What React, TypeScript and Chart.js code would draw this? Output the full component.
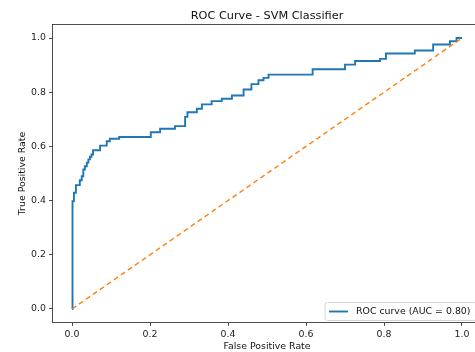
import React, { useEffect, useRef } from "react";
import { Chart, registerables } from "chart.js";

Chart.register(...registerables);

// ROC curve corner points (false positive rate, true positive rate)
const fpr = [
  0, 0, 0.002, 0.002, 0.005, 0.005, 0.01, 0.01, 0.02, 0.02, 0.025, 0.025,
  0.029, 0.029, 0.033, 0.033, 0.038, 0.038, 0.042, 0.042, 0.046, 0.046, 0.05,
  0.05, 0.054, 0.054, 0.072, 0.072, 0.089, 0.089, 0.097, 0.097, 0.121, 0.121,
  0.202, 0.202, 0.226, 0.226, 0.264, 0.264, 0.29, 0.29, 0.296, 0.296, 0.32,
  0.32, 0.333, 0.333, 0.358, 0.358, 0.384, 0.384, 0.41, 0.41, 0.44, 0.44,
  0.46, 0.46, 0.478, 0.478, 0.491, 0.491, 0.504, 0.504, 0.617, 0.617, 0.7,
  0.7, 0.726, 0.726, 0.79, 0.79, 0.805, 0.805, 0.879, 0.879, 0.926, 0.926,
  0.969, 0.969, 0.986, 0.986, 1,
];
const tpr = [
  0, 0.133, 0.133, 0.398, 0.398, 0.429, 0.429, 0.457, 0.457, 0.475, 0.475,
  0.49, 0.49, 0.515, 0.515, 0.527, 0.527, 0.54, 0.54, 0.552, 0.552, 0.562,
  0.562, 0.57, 0.57, 0.586, 0.586, 0.603, 0.603, 0.619, 0.619, 0.628, 0.628,
  0.635, 0.635, 0.652, 0.652, 0.665, 0.665, 0.675, 0.675, 0.709, 0.709, 0.726,
  0.726, 0.739, 0.739, 0.755, 0.755, 0.767, 0.767, 0.776, 0.776, 0.788, 0.788,
  0.81, 0.81, 0.83, 0.83, 0.844, 0.844, 0.853, 0.853, 0.865, 0.865, 0.885,
  0.885, 0.902, 0.902, 0.915, 0.915, 0.923, 0.923, 0.943, 0.943, 0.954, 0.954,
  0.976, 0.976, 0.988, 0.988, 1.0, 1.0,
];
const diagX = [0, 1];
const diagY = [0, 1];
const tickValues = [0, 0.2, 0.4, 0.6, 0.8, 1.0];
const titleText = "ROC Curve - SVM Classifier";
const xLabel = "False Positive Rate";
const yLabel = "True Positive Rate";
const legendLabel = "ROC curve (AUC = 0.80)";

const W = 490;
const H = 352;
const FONT = '"DejaVu Sans", sans-serif';
const BLUE = "#1f77b4";
const ORANGE = "#ff7f0e";

const decorPlugin = {
  id: "decor",
  afterDraw(chart: any) {
    const { ctx, chartArea } = chart;
    const { left, right, top, bottom } = chartArea;
    ctx.save();
    // frame
    ctx.strokeStyle = "#222";
    ctx.lineWidth = 0.8;
    ctx.strokeRect(left, top, right - left, bottom - top);
    const cx = (left + right) / 2;
    const cy = (top + bottom) / 2;
    // title
    ctx.fillStyle = "#111";
    ctx.font = `11.3px ${FONT}`;
    ctx.textAlign = "center";
    ctx.textBaseline = "alphabetic";
    ctx.fillText(titleText, cx, 18.5);
    // x label
    ctx.font = `9.4px ${FONT}`;
    ctx.fillText(xLabel, cx, 349);
    // y label
    ctx.save();
    ctx.translate(25, cy);
    ctx.rotate(-Math.PI / 2);
    ctx.fillText(yLabel, 0, 0);
    ctx.restore();
    // legend
    const lx = 325;
    const ly = 302.5;
    const lw = 151.5;
    const lh = 18;
    ctx.beginPath();
    (ctx as any).roundRect(lx, ly, lw, lh, 2.5);
    ctx.fillStyle = "rgba(255,255,255,0.8)";
    ctx.fill();
    ctx.strokeStyle = "#cccccc";
    ctx.lineWidth = 0.8;
    ctx.stroke();
    ctx.beginPath();
    ctx.moveTo(329, ly + lh / 2);
    ctx.lineTo(348, ly + lh / 2);
    ctx.strokeStyle = BLUE;
    ctx.lineWidth = 1.9;
    ctx.stroke();
    ctx.fillStyle = "#111";
    ctx.textAlign = "left";
    ctx.textBaseline = "middle";
    ctx.fillText(legendLabel, 356, ly + lh / 2 + 0.5);
    ctx.restore();
  },
};

function axisCommon() {
  return {
    type: "linear" as const,
    min: -0.05,
    max: 1.05,
    afterBuildTicks: (scale: any) => {
      scale.ticks = tickValues.map((v) => ({ value: v }));
    },
    ticks: {
      callback: (v: any) => Number(v).toFixed(1),
      font: { family: FONT, size: 9.4 },
      color: "#222",
      padding: 3,
      maxRotation: 0,
      autoSkip: false,
    },
    grid: {
      drawOnChartArea: false,
      drawTicks: true,
      tickLength: 3.5,
      color: "#222",
      lineWidth: 0.8,
    },
    border: { display: false },
  };
}

export default function App() {
  const ref = useRef<HTMLCanvasElement | null>(null);
  useEffect(() => {
    if (!ref.current) return;
    const chart = new Chart(ref.current, {
      type: "line",
      data: {
        datasets: [
          {
            label: "diag",
            data: diagX.map((x, i) => ({ x, y: diagY[i] })),
            borderColor: ORANGE,
            borderWidth: 1.4,
            borderDash: [5, 3.5],
            pointRadius: 0,
            tension: 0,
            fill: false,
          },
          {
            label: legendLabel,
            data: fpr.map((x, i) => ({ x, y: tpr[i] })),
            borderColor: BLUE,
            borderWidth: 1.9,
            pointRadius: 0,
            tension: 0,
            fill: false,
          },
        ],
      },
      options: {
        animation: false,
        responsive: false,
        devicePixelRatio: 1,
        layout: { padding: { top: 24.5, right: 8.5, left: 0, bottom: 0 } },
        plugins: {
          legend: { display: false },
          title: { display: false },
          tooltip: { enabled: false },
        },
        scales: {
          x: {
            ...axisCommon(),
            position: "bottom",
            afterFit: (s: any) => {
              s.height = 29.5;
            },
          },
          y: {
            ...axisCommon(),
            position: "left",
            afterFit: (s: any) => {
              s.width = 52.5;
            },
          },
        },
      } as any,
      plugins: [decorPlugin],
    });
    return () => chart.destroy();
  }, []);
  return (
    <div
      style={{
        position: "fixed",
        left: 0,
        top: 0,
        width: 475,
        height: 352,
        overflow: "hidden",
        background: "#fff",
      }}
    >
      <canvas ref={ref} width={W} height={H} style={{ width: W, height: H, display: "block" }} />
    </div>
  );
}
